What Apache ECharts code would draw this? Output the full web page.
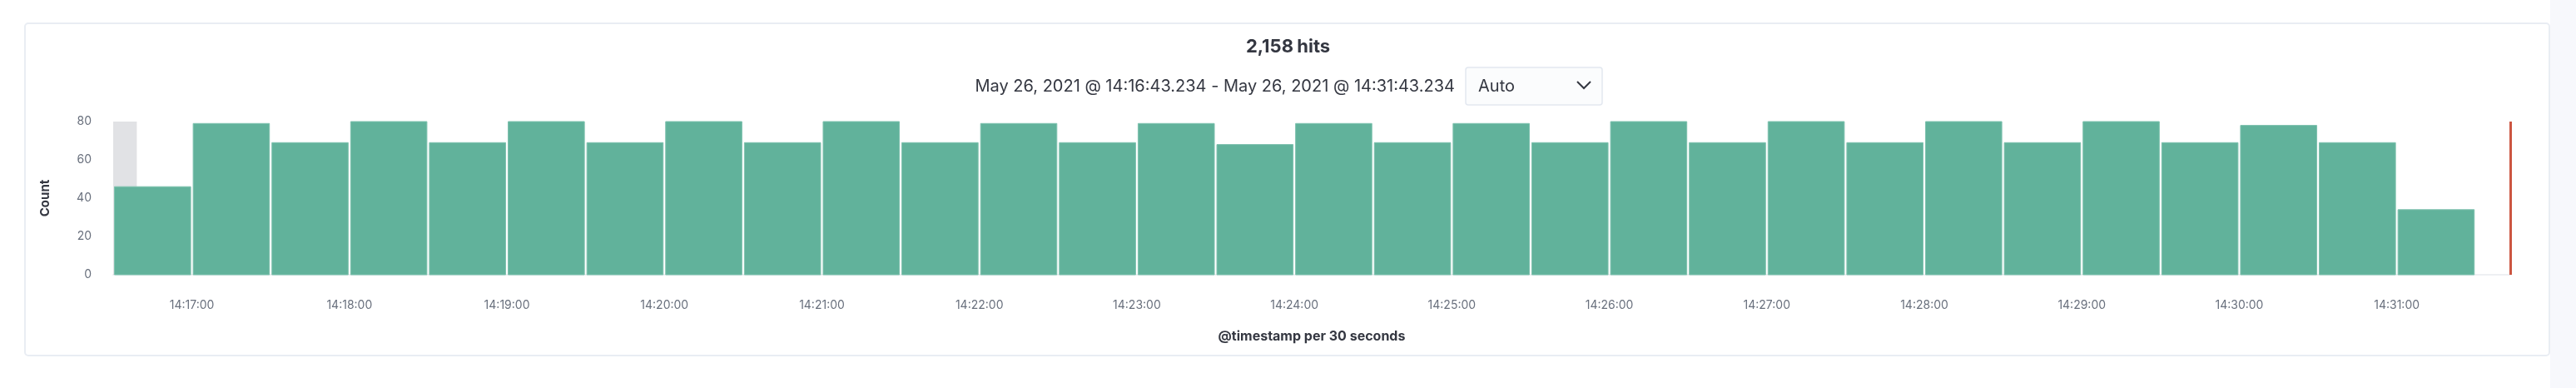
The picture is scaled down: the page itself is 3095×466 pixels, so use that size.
<!DOCTYPE html>
<html>
<head>
<meta charset="utf-8">
<script src="https://cdn.jsdelivr.net/npm/echarts@6/dist/echarts.min.js"></script>
<style>
  html, body { margin: 0; padding: 0; background: #fff; }
  #chart { width: 3095px; height: 466px; }
</style>
</head>
<body>
<div id="chart"></div>
<script>
var bucketStarts = [
  '14:16:30','14:17:00','14:17:30','14:18:00','14:18:30','14:19:00','14:19:30','14:20:00','14:20:30','14:21:00',
  '14:21:30','14:22:00','14:22:30','14:23:00','14:23:30','14:24:00','14:24:30','14:25:00','14:25:30','14:26:00',
  '14:26:30','14:27:00','14:27:30','14:28:00','14:28:30','14:29:00','14:29:30','14:30:00','14:30:30','14:31:00'
];
var counts = [46, 79, 69, 80, 69, 80, 69, 80, 69, 80, 69, 79, 69, 79, 68, 79, 69, 79, 69, 80, 69, 80, 69, 80, 69, 80, 69, 78, 69, 34];
var tickLabels = ['14:17:00','14:18:00','14:19:00','14:20:00','14:21:00','14:22:00','14:23:00','14:24:00',
  '14:25:00','14:26:00','14:27:00','14:28:00','14:29:00','14:30:00','14:31:00'];
var rangeStart = '14:16:30';
var outOfRangeEnd = '14:16:39';
var rangeEnd = '14:31:43.234';
var bucketSec = 30;

// seconds since midnight
function sec(t) {
  var p = t.split(':');
  return (+p[0]) * 3600 + (+p[1]) * 60 + parseFloat(p[2]);
}
function pad(n) { return (n < 10 ? '0' : '') + n; }
function fmt(s) {
  s = Math.round(s);
  return pad(Math.floor(s / 3600)) + ':' + pad(Math.floor(s / 60) % 60) + ':' + pad(s % 60);
}

var chart = echarts.init(document.getElementById('chart'));
var data = bucketStarts.map(function (t, i) { return [sec(t), counts[i]]; });

var option = {
  animation: false,
  textStyle: { fontFamily: 'Inter, "Noto Sans", sans-serif' },
  title: {
    text: '{b|2,158} {n|hits}',
    left: 'center', top: 40,
    textStyle: {
      rich: {
        b: { fontSize: 22, fontWeight: 'bold', color: '#343741', fontFamily: 'Inter' },
        n: { fontSize: 22, color: '#343741', fontFamily: 'Inter' }
      }
    }
  },
  graphic: [
    { type: 'rect', shape: { x: 30, y: 28, width: 3033, height: 399, r: 4 },
      style: { fill: 'none', stroke: '#e9edf3', lineWidth: 2 }, z: -10 },
    { type: 'rect', shape: { x: 3064, y: 0, width: 31, height: 466 },
      style: { fill: '#f7f8fc' }, z: -10 },
    { type: 'text', x: 1748, y: 104,
      style: { text: 'May 26, 2021 @ 14:16:43.234 - May 26, 2021 @ 14:31:43.234', fontSize: 20,
        fill: '#343741', align: 'right', verticalAlign: 'middle', fontFamily: 'Inter' } },
    { type: 'rect', shape: { x: 1761, y: 81, width: 164, height: 45, r: 3 },
      style: { fill: '#fbfcfd', stroke: '#e3e8f0', lineWidth: 1.5 } },
    { type: 'text', x: 1776, y: 104,
      style: { text: 'Auto', fontSize: 20, fill: '#343741', verticalAlign: 'middle', fontFamily: 'Inter' } },
    { type: 'polyline', shape: { points: [[1895, 98], [1903, 106], [1911, 98]] },
      style: { stroke: '#343741', lineWidth: 2, fill: 'none' } }
  ],
  grid: { left: 136, right: 79, top: 146, bottom: 136 },
  xAxis: {
    type: 'value',
    min: sec(rangeStart),
    max: sec(rangeEnd),
    name: '@timestamp per 30 seconds',
    nameLocation: 'middle',
    nameGap: 66,
    nameTextStyle: { fontSize: 16, fontWeight: 'bold', color: '#343741' },
    axisLine: { show: true, lineStyle: { color: '#eef0f3', width: 2 } },
    axisTick: { show: false },
    splitLine: { show: false },
    axisLabel: {
      customValues: tickLabels.map(sec),
      margin: 30,
      fontSize: 14,
      color: '#69707d',
      formatter: function (v) { return fmt(v); }
    }
  },
  yAxis: {
    type: 'value',
    min: 0, max: 80, interval: 20,
    name: 'Count',
    nameLocation: 'middle',
    nameGap: 74,
    nameTextStyle: { fontSize: 15, fontWeight: 'bold', color: '#343741' },
    axisLine: { show: false },
    axisTick: { show: false },
    splitLine: { show: false },
    axisLabel: { fontSize: 14, color: '#69707d', margin: 26 }
  },
  series: [{
    type: 'custom',
    data: data,
    renderItem: function (params, api) {
      var start = api.value(0);
      var p0 = api.coord([start, api.value(1)]);
      var p1 = api.coord([start + bucketSec, 0]);
      return {
        type: 'rect',
        shape: { x: p0[0] + 1.5, y: p0[1], width: p1[0] - p0[0] - 3, height: p1[1] - p0[1] },
        style: { fill: '#61b29b', stroke: '#7fc2af', lineWidth: 1 }
      };
    },
    markArea: {
      silent: true,
      itemStyle: { color: 'rgba(105,112,125,0.2)' },
      data: [[{ xAxis: sec(rangeStart), yAxis: 80 }, { xAxis: sec(outOfRangeEnd), yAxis: 0 }]]
    },
    markLine: {
      silent: true,
      symbol: 'none',
      label: { show: false },
      lineStyle: { color: '#cc5642', width: 3, type: 'solid' },
      data: [{ xAxis: sec(rangeEnd) }]
    }
  }]
};
chart.setOption(option);
</script>
</body>
</html>
